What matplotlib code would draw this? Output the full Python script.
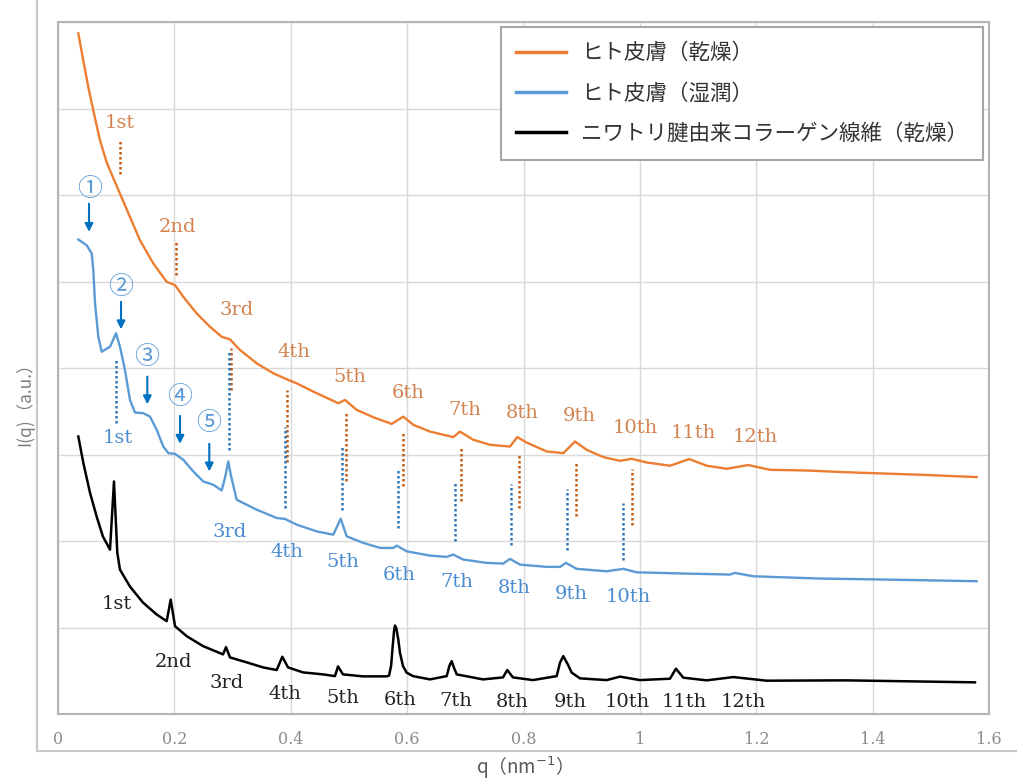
import numpy as np
import matplotlib
matplotlib.use("Agg")
import matplotlib.pyplot as plt
from matplotlib.lines import Line2D

plt.rcParams['font.family'] = ['Noto Sans CJK JP', 'DejaVu Sans']

# ---- data ----------------------------------------------------------------
q_dry = [0.0349, 0.0435, 0.0521, 0.0607, 0.0722, 0.0837, 0.0923, 0.1065, 0.1237, 0.1409,
         0.1638, 0.1868, 0.2011, 0.2153, 0.2384, 0.2612, 0.2813, 0.2956, 0.3128, 0.3415,
         0.3700, 0.3958, 0.4102, 0.4387, 0.4817, 0.4932, 0.5133, 0.5418, 0.5735, 0.5934,
         0.6106, 0.6393, 0.6793, 0.6908, 0.7137, 0.7424, 0.7768, 0.7893, 0.8055, 0.8398,
         0.8684, 0.8885, 0.9086, 0.9371, 0.9658, 0.9859, 1.0117, 1.0517, 1.0849, 1.1148,
         1.1492, 1.1863, 1.2236, 1.2866, 1.3667, 1.4813, 1.5788]
I_dry = [7.869, 7.554, 7.246, 6.977, 6.631, 6.377, 6.239, 6.016, 5.746, 5.477,
         5.208, 4.996, 4.958, 4.823, 4.631, 4.477, 4.361, 4.331, 4.208, 4.054,
         3.939, 3.862, 3.823, 3.727, 3.593, 3.631, 3.516, 3.431, 3.354, 3.438,
         3.343, 3.265, 3.201, 3.265, 3.170, 3.112, 3.092, 3.201, 3.138, 3.035,
         3.016, 3.150, 3.054, 2.970, 2.927, 2.950, 2.908, 2.870, 2.947, 2.870,
         2.835, 2.878, 2.823, 2.815, 2.792, 2.766, 2.739]

q_wet = [0.0349, 0.0493, 0.0579, 0.0607, 0.0636, 0.0693, 0.0751, 0.0894, 0.0997, 0.1065,
         0.1151, 0.1237, 0.1323, 0.1466, 0.1581, 0.1696, 0.1810, 0.1896, 0.2011, 0.2153,
         0.2325, 0.2497, 0.2669, 0.2813, 0.2870, 0.2927, 0.2973, 0.3071, 0.3415, 0.3758,
         0.3901, 0.4102, 0.4446, 0.4731, 0.4858, 0.4961, 0.5247, 0.5534, 0.5762, 0.5821,
         0.5992, 0.6393, 0.6680, 0.6793, 0.6965, 0.7367, 0.7652, 0.7768, 0.7939, 0.8398,
         0.8627, 0.8730, 0.8914, 0.9429, 0.9715, 0.9945, 1.0804, 1.1548, 1.1634, 1.1949,
         1.3095, 1.4241, 1.5788]
I_wet = [5.485, 5.419, 5.324, 5.131, 4.750, 4.361, 4.188, 4.246, 4.401, 4.246,
         3.977, 3.631, 3.485, 3.478, 3.438, 3.285, 3.092, 3.016, 3.008, 2.939,
         2.804, 2.688, 2.650, 2.585, 2.731, 2.919, 2.754, 2.477, 2.362, 2.266,
         2.255, 2.189, 2.111, 2.073, 2.258, 2.054, 1.978, 1.920, 1.920, 1.946,
         1.881, 1.831, 1.816, 1.843, 1.785, 1.747, 1.739, 1.793, 1.727, 1.701,
         1.701, 1.747, 1.678, 1.650, 1.678, 1.638, 1.623, 1.612, 1.631, 1.592,
         1.566, 1.554, 1.535]

q_col = [0.0349, 0.0435, 0.0550, 0.0665, 0.0773, 0.0894, 0.0962, 0.1019, 0.1065, 0.1237,
         0.1461, 0.1696, 0.1868, 0.1937, 0.2011, 0.2212, 0.2492, 0.2836, 0.2887, 0.2956,
         0.3243, 0.3523, 0.3758, 0.3855, 0.3953, 0.4210, 0.4554, 0.4760, 0.4812, 0.4898,
         0.5241, 0.5649, 0.5690, 0.5725, 0.5752, 0.5775, 0.5791, 0.5815, 0.5848, 0.5877,
         0.5929, 0.5992, 0.6101, 0.6393, 0.6680, 0.6725, 0.6766, 0.6805, 0.6852, 0.7304,
         0.7647, 0.7721, 0.7819, 0.8163, 0.8570, 0.8627, 0.8684, 0.8770, 0.8828, 0.8971,
         0.9429, 0.9658, 1.0002, 1.0517, 1.0620, 1.0746, 1.1148, 1.1605, 1.2179, 1.3542,
         1.5759]
I_col = [3.208, 2.904, 2.558, 2.281, 2.050, 1.900, 2.688, 1.865, 1.669, 1.473,
         1.288, 1.150, 1.073, 1.323, 1.015, 0.900, 0.785, 0.689, 0.773, 0.654,
         0.597, 0.539, 0.508, 0.662, 0.539, 0.481, 0.458, 0.438, 0.550, 0.458,
         0.435, 0.435, 0.445, 0.560, 0.785, 0.960, 1.023, 0.990, 0.862, 0.708,
         0.554, 0.478, 0.438, 0.400, 0.438, 0.554, 0.611, 0.535, 0.458, 0.400,
         0.423, 0.508, 0.423, 0.392, 0.438, 0.593, 0.669, 0.562, 0.478, 0.412,
         0.392, 0.432, 0.392, 0.408, 0.524, 0.420, 0.389, 0.427, 0.385, 0.389,
         0.366]

ordinals = ['1st', '2nd', '3rd', '4th', '5th', '6th', '7th', '8th', '9th', '10th', '11th', '12th']

# orange (dry skin) order labels and dotted markers
dry_lab_q = [0.1065, 0.2045, 0.3076, 0.4056, 0.5018, 0.6015, 0.6994, 0.7974, 0.8953, 0.9916, 1.0912, 1.1978]
dry_lab_I = [6.827, 5.627, 4.669, 4.185, 3.897, 3.712, 3.516, 3.481, 3.447, 3.308, 3.250, 3.204]
dry_mark_q = [0.1065, 0.2028, 0.2968, 0.3941, 0.4944, 0.5924, 0.6926, 0.7927, 0.8902, 0.9869]
dry_mark_top = [6.630, 5.477, 4.227, 3.746, 3.496, 3.265, 3.100, 3.023, 2.919, 2.831]
dry_mark_bot = [6.247, 5.073, 3.746, 2.919, 2.688, 2.631, 2.458, 2.381, 2.285, 2.189]

# blue (wet skin) order labels (no 2nd) and dotted markers
wet_lab_text = ['1st', '3rd', '4th', '5th', '6th', '7th', '8th', '9th', '10th']
wet_lab_q = [0.1031, 0.2956, 0.3935, 0.4898, 0.5860, 0.6857, 0.7836, 0.8816, 0.9795]
wet_lab_I = [3.193, 2.108, 1.877, 1.762, 1.612, 1.531, 1.462, 1.393, 1.347]
wet_mark_q = [0.0997, 0.2944, 0.3901, 0.4875, 0.5838, 0.6822, 0.7785, 0.8742, 0.9715]
wet_mark_top = [4.112, 4.208, 3.323, 3.112, 2.843, 2.688, 2.662, 2.601, 2.439]
wet_mark_bot = [3.362, 3.054, 2.381, 2.362, 2.151, 1.996, 1.958, 1.900, 1.785]

# black (collagen) order labels
col_lab_q = [0.1014, 0.1976, 0.2904, 0.3901, 0.4898, 0.5877, 0.6840, 0.7802, 0.8799, 0.9778, 1.0758, 1.1772]
col_lab_I = [1.266, 0.596, 0.354, 0.227, 0.181, 0.158, 0.146, 0.135, 0.135, 0.135, 0.135, 0.135]

# circled numbers with arrows on the wet curve
circ_text = ['①', '②', '③', '④', '⑤']
circ_q = [0.0550, 0.1083, 0.1529, 0.2097, 0.2595]
circ_I = [6.075, 4.933, 4.124, 3.666, 3.366]
arrow_q = [0.0533, 0.1083, 0.1535, 0.2097, 0.2600]
arrow_top = [5.900, 4.765, 3.900, 3.446, 3.123]
arrow_bot = [5.573, 4.447, 3.581, 3.123, 2.804]

legend_labels = ['ヒト皮膚（乾燥）', 'ヒト皮膚（湿潤）', 'ニワトリ腱由来コラーゲン線維（乾燥）']

# ---- colours ----------------------------------------------------------------
c_dry = '#ED7D31'
c_wet = '#5B9BD5'
c_col = '#000000'
c_dry_txt = '#D2834F'
c_dry_dot = '#C55A11'
c_wet_txt = '#4A8CD0'
c_wet_dot = '#2E75B6'
c_arrow = '#0070C0'
serif = 'DejaVu Serif'

# ---- figure -------------------------------------------------------------------
fig = plt.figure(figsize=(10.17, 7.80), dpi=100)
W, H = 1017, 780
ax = fig.add_axes([58 / W, 1 - 714 / H, (989 - 58) / W, (714 - 22) / H])

# outer chart frame (left and bottom visible)
fig.add_artist(Line2D([37 / W, 37 / W], [1 - 751 / H, 1.0], transform=fig.transFigure,
                      color='#c8c8c8', lw=1.5))
fig.add_artist(Line2D([37 / W, 1.0], [1 - 751 / H, 1 - 751 / H], transform=fig.transFigure,
                      color='#c8c8c8', lw=1.5))

ax.plot(q_dry, I_dry, color=c_dry, lw=1.7, label=legend_labels[0], zorder=3,
        solid_joinstyle='round')
ax.plot(q_wet, I_wet, color=c_wet, lw=1.7, label=legend_labels[1], zorder=3,
        solid_joinstyle='round')
ax.plot(q_col, I_col, color=c_col, lw=1.8, label=legend_labels[2], zorder=3,
        solid_joinstyle='round')

dots = (0, (1, 1))
ax.vlines(dry_mark_q, dry_mark_bot, dry_mark_top, colors=c_dry_dot, linestyles=dots, lw=1.8, zorder=2)
ax.vlines(wet_mark_q, wet_mark_bot, wet_mark_top, colors=c_wet_dot, linestyles=dots, lw=1.8, zorder=2)

for t, x, y in zip(ordinals, dry_lab_q, dry_lab_I):
    ax.text(x, y, t, color=c_dry_txt, fontsize=14, family=serif, ha='center', va='center')
for t, x, y in zip(wet_lab_text, wet_lab_q, wet_lab_I):
    ax.text(x, y, t, color=c_wet_txt, fontsize=14, family=serif, ha='center', va='center')
for t, x, y in zip(ordinals, col_lab_q, col_lab_I):
    ax.text(x, y, t, color='#222222', fontsize=14, family=serif, ha='center', va='center')

for t, x, y in zip(circ_text, circ_q, circ_I):
    ax.text(x, y, t, color=c_wet, fontsize=18, ha='center', va='center')
for x, y0, y1 in zip(arrow_q, arrow_top, arrow_bot):
    ax.annotate('', xy=(x, y1), xytext=(x, y0),
                arrowprops=dict(arrowstyle='-|>', color=c_arrow, lw=1.5,
                                mutation_scale=12, shrinkA=0, shrinkB=0))

ax.set_xlim(0, 1.6)
ax.set_ylim(0, 8)
ax.set_xticks(np.arange(0, 1.61, 0.2))
ax.set_xticklabels(['0', '0.2', '0.4', '0.6', '0.8', '1', '1.2', '1.4', '1.6'],
                   family=serif, fontsize=11.5, color='#8c8c8c')
ax.set_yticks(np.arange(0, 8.1, 1))
ax.set_yticklabels([])
ax.tick_params(length=0, pad=12)
ax.grid(True, color='#d9d9d9', lw=1.0)
ax.set_axisbelow(True)
for s in ax.spines.values():
    s.set_color('#b4b4b4')
    s.set_linewidth(1.5)

fig.text(520 / W, 1 - 768 / H, 'q（nm$^{-1}$）', ha='center', va='center',
         fontsize=13.5, color='#595959')
fig.text(25 / W, 1 - 400 / H, 'I(q)（a.u.）', ha='center', va='center',
         rotation=90, fontsize=12.5, color='#7f7f7f')

leg = ax.legend(loc='upper right', bbox_to_anchor=((983 - 58) / 931, (714 - 27) / 692),
                borderaxespad=0, fontsize=15.5, handlelength=2.3, handletextpad=0.7,
                labelspacing=0.85, borderpad=0.7, fancybox=False, framealpha=1)
leg.get_frame().set_edgecolor('#a6a6a6')
leg.get_frame().set_linewidth(1.5)
for ln in leg.get_lines():
    ln.set_linewidth(2.5)
for txt in leg.get_texts():
    txt.set_color('#333333')

fig.savefig('out.png', dpi=100)
